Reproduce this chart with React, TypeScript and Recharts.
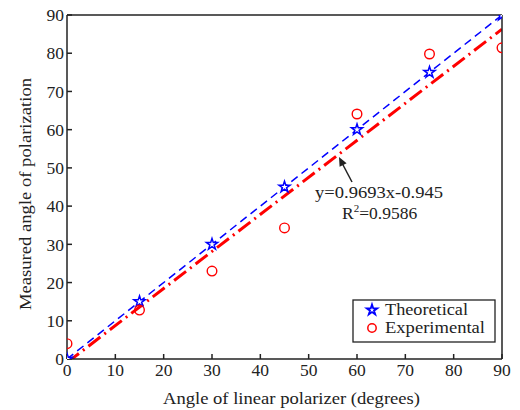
import { ComposedChart, Line, Scatter, XAxis, YAxis, Symbols } from "recharts";

// linear polarizer angle (degrees)
const angles = [0, 15, 30, 45, 60, 75, 90];
const theoretical = [0, 15, 30, 45, 60, 75, 90];
const experimental = [4.0, 12.8, 23.0, 34.3, 64.1, 79.8, 81.4];
// fitted line y=0.9693x-0.945, endpoints
const fitX = [0, 90];
const fitY = [-0.945, 86.29];
const ticks = [0, 10, 20, 30, 40, 50, 60, 70, 80, 90];

const theoData = angles.map((x, i) => ({ x, y: theoretical[i] }));
const expData = angles.map((x, i) => ({ x, y: experimental[i] }));
const fitData = fitX.map((x, i) => ({ x, y: fitY[i] }));

const ink = "#222";
const blue = "#0000ff";
const red = "#ff0000";
const font = "Liberation Serif, DejaVu Serif, serif";
const tickStyle = { fontSize: 17.5, fill: ink, fontFamily: font };

const StarDot = (props: any) => {
  const { cx, cy, index } = props;
  if (cx == null || cy == null) return <g key={index} />;
  return (
    <Symbols key={index} type="star" size={38} cx={cx} cy={cy} fill="#fff" stroke={blue} strokeWidth={1.5} />
  );
};

const Ring = (props: any) => {
  const { cx, cy } = props;
  return <circle cx={cx} cy={cy} r={4.8} fill="none" stroke={red} strokeWidth={1.4} />;
};

export default function App() {
  return (
    <div style={{ position: "absolute", left: 0, top: 0, width: 520, height: 410, background: "#fff", fontFamily: font }}>
      <ComposedChart width={520} height={410} margin={{ top: 14, right: 17, bottom: 0, left: 0 }}>
        <XAxis
          dataKey="x"
          type="number"
          domain={[0, 90]}
          ticks={ticks}
          allowDataOverflow
          height={51}
          tickSize={-5}
          tickMargin={10}
          tick={tickStyle}
          stroke={ink}
          strokeWidth={1.5}
        />
        <XAxis
          xAxisId="top"
          orientation="top"
          type="number"
          domain={[0, 90]}
          ticks={ticks}
          height={1}
          tickSize={-5}
          tickFormatter={() => ""}
          stroke={ink}
          strokeWidth={1.5}
        />
        <YAxis
          type="number"
          domain={[0, 90]}
          ticks={ticks}
          allowDataOverflow
          width={67}
          tickSize={-5}
          tickMargin={8}
          tick={tickStyle}
          stroke={ink}
          strokeWidth={1.5}
        />
        <YAxis
          yAxisId="right"
          orientation="right"
          type="number"
          domain={[0, 90]}
          ticks={ticks}
          width={1}
          tickSize={-5}
          tickFormatter={() => ""}
          stroke={ink}
          strokeWidth={1.5}
        />
        <Line
          data={fitData}
          dataKey="y"
          type="linear"
          stroke={red}
          strokeWidth={3}
          strokeDasharray="15 5 2 5"
          dot={false}
          isAnimationActive={false}
        />
        <Line
          data={theoData}
          dataKey="y"
          type="linear"
          stroke={blue}
          strokeWidth={1.5}
          strokeDasharray="8 5"
          dot={StarDot}
          isAnimationActive={false}
        />
        <Scatter data={expData} dataKey="y" shape={Ring} isAnimationActive={false} />
      </ComposedChart>

      <svg width={520} height={410} style={{ position: "absolute", left: 0, top: 0, pointerEvents: "none" }}>
        {/* axis titles */}
        <text x={163} y={404} fontSize={17} textLength={257} lengthAdjust="spacingAndGlyphs" fill={ink} fontFamily={font}>
          Angle of linear polarizer (degrees)
        </text>
        <text
          transform="translate(31,310) rotate(-90)"
          fontSize={17}
          textLength={232}
          lengthAdjust="spacingAndGlyphs"
          fill={ink}
          fontFamily={font}
        >
          Measured angle of polarization
        </text>

        {/* fit annotation */}
        <line x1={352} y1={182} x2={342} y2={163} stroke={ink} strokeWidth={1.5} />
        <polygon points="339,157 346.6,163.2 339.6,166.8" fill={ink} />
        <text x={315} y={198} fontSize={17} textLength={128} lengthAdjust="spacingAndGlyphs" fill={ink} fontFamily={font}>
          y=0.9693x-0.945
        </text>
        <text x={342} y={219} fontSize={17.5} fill={ink} fontFamily={font}>
          R<tspan dy={-7} fontSize={11}>2</tspan>
          <tspan dy={7}>=0.9586</tspan>
        </text>

        {/* legend */}
        <rect x={353} y={300} width={142} height={42} fill="#fff" stroke={ink} strokeWidth={1.3} />
        <Symbols type="star" size={34} cx={372} cy={310} fill="#fff" stroke={blue} strokeWidth={1.8} />
        <text x={385} y={315} fontSize={16} textLength={83} lengthAdjust="spacingAndGlyphs" fill={ink} fontFamily={font}>
          Theoretical
        </text>
        <circle cx={372} cy={328} r={4.2} fill="none" stroke={red} strokeWidth={1.5} />
        <text x={385} y={333} fontSize={16} textLength={100} lengthAdjust="spacingAndGlyphs" fill={ink} fontFamily={font}>
          Experimental
        </text>
      </svg>
    </div>
  );
}
